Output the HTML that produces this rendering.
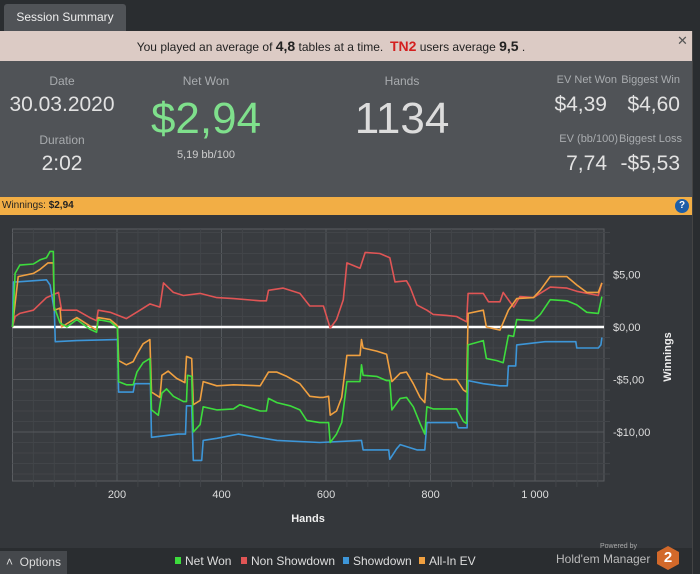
<!DOCTYPE html>
<html><head><meta charset="utf-8">
<style>
*{margin:0;padding:0;box-sizing:border-box}
body{width:700px;height:574px;background:#2a2d30;font-family:"Liberation Sans","DejaVu Sans",sans-serif;position:relative;overflow:hidden;color:#ddd}
.abs{position:absolute;white-space:nowrap}
.lbl{color:#a9acaf;font-size:12px;text-align:center}
.val{color:#e2e2e2;text-align:center}
</style></head><body>
<div class="abs" style="left:4px;top:4px;width:122px;height:27px;background:#505357;border-radius:3px 3px 0 0;color:#eee;font-size:12px;line-height:26px;text-align:center">Session Summary</div>
<div class="abs" style="left:0;top:31px;width:692px;height:30px;background:#dccbc5;color:#222;font-size:12px;line-height:30px;text-align:center;padding-right:30px">You played an average of <b style="font-size:14px">4,8</b> tables at a time. &nbsp;<b style="color:#d41f1f;font-size:14px">TN2</b> users average <b style="font-size:14px">9,5</b> .</div>
<div class="abs" style="left:677px;top:33px;color:#555;font-size:13px;font-weight:bold">✕</div>
<div class="abs" style="left:0;top:61px;width:692px;height:136px;background:#505357"></div>
<div class="abs lbl" style="left:22px;top:74px;width:80px">Date</div>
<div class="abs val" style="left:2px;top:93px;width:120px;font-size:21px">30.03.2020</div>
<div class="abs lbl" style="left:22px;top:133px;width:80px">Duration</div>
<div class="abs val" style="left:22px;top:152px;width:80px;font-size:21px">2:02</div>
<div class="abs lbl" style="left:156px;top:74px;width:100px">Net Won</div>
<div class="abs val" style="left:136px;top:94px;width:140px;font-size:44px;color:#7fe08c">$2,94</div>
<div class="abs lbl" style="left:156px;top:149px;width:100px;font-size:11px;color:#ccc">5,19 bb/100</div>
<div class="abs lbl" style="left:352px;top:74px;width:100px">Hands</div>
<div class="abs val" style="left:332px;top:94px;width:140px;font-size:44px;color:#dcdcdc">1134</div>
<div class="abs lbl" style="left:545px;top:74px;width:72px;text-align:right;font-size:11px">EV Net Won</div>
<div class="abs lbl" style="left:618px;top:74px;width:62px;text-align:right;font-size:11px">Biggest Win</div>
<div class="abs val" style="left:545px;top:93px;width:62px;font-size:21px;text-align:right">$4,39</div>
<div class="abs val" style="left:610px;top:93px;width:70px;font-size:21px;text-align:right">$4,60</div>
<div class="abs lbl" style="left:540px;top:133px;width:78px;text-align:right;font-size:11px">EV (bb/100)</div>
<div class="abs lbl" style="left:612px;top:133px;width:70px;text-align:right;font-size:11px">Biggest Loss</div>
<div class="abs val" style="left:545px;top:152px;width:62px;font-size:21px;text-align:right">7,74</div>
<div class="abs val" style="left:606px;top:152px;width:74px;font-size:21px;text-align:right">-$5,53</div>
<div class="abs" style="left:0;top:197px;width:692px;height:18px;background:#f2ae45;color:#222;font-size:10px;line-height:18px;padding-left:2px">Winnings: <b>$2,94</b></div>
<div class="abs" style="left:675px;top:199px;width:14px;height:14px;border-radius:50%;background:#1d5ea8;color:#fff;font-size:10px;font-weight:bold;text-align:center;line-height:14px">?</div>
<div class="abs" style="left:0;top:215px;width:692px;height:333px;background:#34373b"></div>
<div class="abs" style="left:692px;top:31px;width:8px;height:543px;background:#2a2d30;border-left:1px solid #444"></div>
<svg class="abs" style="left:0;top:0" width="700" height="574" id="chart"></svg>
<div class="abs" style="left:0;top:551px;width:67px;height:23px;background:#45484c;color:#ddd;font-size:12px;line-height:23px;padding-left:6px">˄ &nbsp;Options</div>
<div class="abs" style="left:600px;top:543px;font-size:7px;color:#aaa">Powered by</div>
<div class="abs" style="left:556px;top:552px;font-size:12px;color:#bbb">Hold'em Manager</div>
<div class="abs" style="left:657px;top:546px;width:22px;height:24px;background:#d2692a;clip-path:polygon(50% 0,100% 25%,100% 75%,50% 100%,0 75%,0 25%);color:#fff;font-weight:bold;font-size:15px;text-align:center;line-height:24px">2</div>
<script>
const xTicks=[200,400,600,800,1000];
const xTickLabels=["200","400","600","800","1 000"];
const yTicks=[5,0,-5,-10];
const yTickLabels=["$5,00","$0,00","-$5,00","-$10,00"];
const seriesNames=["Net Won","Non Showdown","Showdown","All-In EV"];
const seriesColors=["#3ddc3d","#e05555","#3d96d8","#f0a040"];
const netWonHands=[0,1,5,14,40,53,65,72,78,80,91,104,123,148,161,164,187,199,201,203,218,231,238,250,263,266,279,286,295,308,327,333,335,343,346,359,365,391,423,435,474,486,490,506,531,550,563,588,595,605,608,620,630,640,665,668,671,697,716,722,726,742,754,767,780,789,793,805,825,850,863,869,872,901,907,927,939,949,959,965,997,1010,1029,1061,1080,1099,1121,1128];
const netWonValues=[0,0.5,5.1,5.9,6.0,6.4,6.6,7.2,7.2,1.9,0.4,0.0,0.7,-0.2,-0.5,0.7,0.5,0.0,-0.1,-5.2,-5.5,-5.5,-4.3,-3.4,-3.0,-7.9,-8.4,-6.3,-5.9,-6.6,-7.1,-7.1,-4.6,-4.7,-10,-9.3,-7.6,-7.9,-7.8,-7.4,-8.0,-8.0,-6.8,-7.2,-7.5,-7.9,-8.9,-9.1,-9.1,-9.1,-11,-10.2,-9.1,-5.2,-5.2,-3.6,-4.6,-4.7,-5.1,-5.1,-7.9,-6.8,-6.7,-7.6,-9.2,-10.2,-7.6,-7.8,-7.8,-7.8,-9.0,-9.2,-1.7,-1.3,-3.0,-3.2,-3.4,-0.8,-0.9,0.7,0.6,1.2,2.6,2.5,2.1,1.4,1.3,2.9];
const nonShowdownHands=[0,5,14,40,65,88,94,123,148,161,164,187,218,244,263,282,289,308,327,359,391,423,474,486,490,518,550,569,588,595,608,620,633,640,665,675,703,722,732,754,761,774,793,805,831,850,869,872,901,911,933,939,959,971,997,1029,1061,1080,1121,1128];
const nonShowdownValues=[0,1.0,1.3,1.6,2.8,3.3,1.6,1.6,0.9,0.6,1.6,1.4,0.8,1.6,2.2,1.9,4.2,3.3,3.0,3.2,2.8,2.7,2.5,2.5,3.5,3.7,3.2,2.0,2.0,2.0,-0.1,0.7,2.6,6.1,5.6,7.1,7.0,6.6,4.3,4.4,3.8,2.1,1.6,1.2,1.1,1.0,0.5,3.2,3.2,2.4,2.4,3.3,1.9,2.9,2.8,3.8,3.7,3.4,3.0,4.2];
const showdownHands=[0,2,8,65,72,80,82,123,199,201,203,231,234,264,266,317,331,333,343,346,362,365,391,432,506,588,668,671,720,722,735,742,774,789,793,850,853,870,872,901,933,947,949,963,965,1019,1078,1080,1121,1126,1128];
const showdownValues=[0,4.3,4.3,4.5,4.0,1.6,-1.4,-1.3,-1.2,-1.2,-6.2,-6.2,-5.4,-5.4,-10.5,-10.2,-10.2,-7.5,-7.5,-12.7,-12.7,-10.8,-10.6,-10.2,-10.8,-11,-10.8,-11.7,-11.7,-12.6,-11.6,-11.2,-11.7,-11.7,-9.1,-9.1,-9.6,-9.6,-5.1,-5.4,-5.6,-5.6,-3.7,-3.7,-1.7,-1.4,-1.4,-2.0,-2.0,-1.7,-1.0];
const allInEvHands=[0,1,11,40,53,68,78,80,91,94,123,148,161,164,187,199,201,203,218,231,238,250,263,266,282,286,298,314,330,333,343,346,359,365,391,423,474,490,506,525,550,569,588,595,605,608,620,630,640,665,668,671,697,716,726,742,754,767,780,789,793,825,850,863,869,872,901,907,933,949,965,997,1010,1029,1061,1080,1099,1121,1128];
const allInEvValues=[0,0.5,4.8,5.1,5.5,6.1,6.1,1.6,1.8,0.0,0.9,0.1,-0.3,0.9,0.7,0.2,0.1,-3.2,-3.6,-3.3,-2.6,-1.6,-1.2,-6.2,-6.7,-4.6,-4.2,-4.9,-5.3,-2.8,-3.0,-7.4,-7.0,-5.2,-5.6,-5.5,-5.6,-4.3,-4.3,-4.7,-5.4,-6.6,-6.7,-6.7,-6.6,-8.4,-8.0,-6.7,-2.7,-2.7,-1.2,-2.0,-2.3,-2.6,-5.2,-4.4,-4.3,-5.4,-6.7,-7.2,-4.4,-5.0,-5.0,-6.0,-6.2,1.3,1.6,0.0,-0.3,1.6,2.7,2.8,3.5,4.8,4.8,4.0,3.3,3.3,4.2];

const svg=document.getElementById('chart');
const NS='http://www.w3.org/2000/svg';
const L=12.5,R=604,T=229,B=481;
const xMax=1132;
function xs(h){return L+h/xMax*(R-L);}
function ys(v){return 327-v*10.5;}
function mk(tag,attrs){const e=document.createElementNS(NS,tag);for(const k in attrs)e.setAttribute(k,attrs[k]);svg.appendChild(e);return e;}
const bg=mk('rect',{x:L,y:T,width:R-L,height:B-T,fill:'#393c40',stroke:'#5a5d61'});


for(let h=40;h<xMax;h+=40){const major=h%200===0;const g=mk('line',{x1:xs(h),x2:xs(h),y1:T,y2:B+(major?0:6),stroke:major?'#55585c':'#424549','stroke-width':1});

}
for(let v=-14;v<=9;v++){const major=v%5===0;const g=mk('line',{x1:L,x2:R+(major?0:6),y1:ys(v),y2:ys(v),stroke:major?'#55585c':'#424549','stroke-width':1});

}
xTicks.forEach((t,i)=>{const e=mk('text',{x:xs(t),y:498,fill:'#ddd','font-size':11,'text-anchor':'middle'});e.textContent=xTickLabels[i];

});
yTicks.forEach((t,i)=>{const e=mk('text',{x:613,y:ys(t)+4,fill:'#ddd','font-size':11});e.textContent=yTickLabels[i];

});
const xt=mk('text',{x:308,y:522,fill:'#eee','font-size':11,'font-weight':'bold','text-anchor':'middle'});xt.textContent='Hands';


const yt=mk('text',{x:671,y:357,fill:'#eee','font-size':11,'font-weight':'bold','text-anchor':'middle',transform:'rotate(-90 671 357)'});yt.textContent='Winnings';


const zl=mk('line',{x1:L,x2:R,y1:ys(0),y2:ys(0),stroke:'#fff','stroke-width':2.5});


const series=[[nonShowdownHands,nonShowdownValues,1,'non-showdown-line'],[showdownHands,showdownValues,2,'showdown-line'],[allInEvHands,allInEvValues,3,'all-in-ev-line'],[netWonHands,netWonValues,0,'net-won-line']];
series.forEach(s=>{const pts=s[0].map((h,i)=>xs(h).toFixed(1)+','+ys(s[1][i]).toFixed(1)).join(' ');
const p=mk('polyline',{points:pts,fill:'none',stroke:seriesColors[s[2]],'stroke-width':1.6,'stroke-linejoin':'round'});

});
const legX=[175,241,343,419];
seriesNames.forEach((n,i)=>{const r=mk('rect',{x:legX[i],y:557,width:6,height:7,fill:seriesColors[i]});


const t=mk('text',{x:legX[i]+10,y:565,fill:'#ddd','font-size':12});t.textContent=n;

});
</script>
</body></html>
